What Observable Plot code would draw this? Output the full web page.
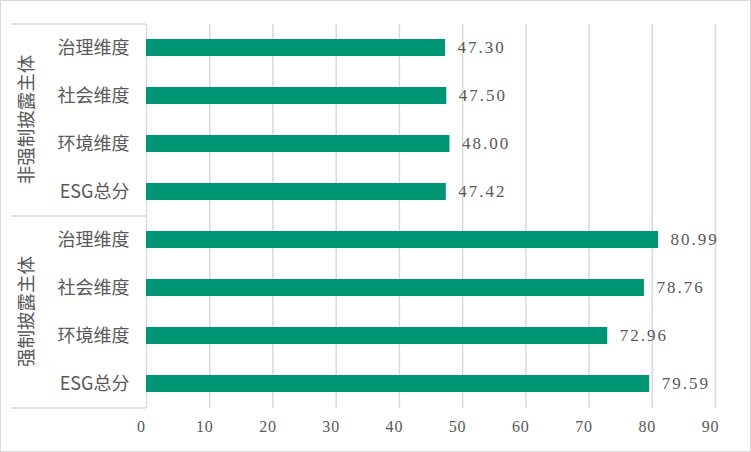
<!DOCTYPE html>
<html><head><meta charset="utf-8">
<script src="https://cdn.jsdelivr.net/npm/d3@7"></script>
<script src="https://cdn.jsdelivr.net/npm/@observablehq/plot@0.6"></script>
<style>
body{margin:0;background:#fff;}
#chart svg{display:block;outline:1.5px solid #d9d9d9;outline-offset:-1.5px;}
</style>
</head><body><div id="chart"></div>
<script>
const groups = ["非强制披露主体", "强制披露主体"];
const dimensions = ["治理维度", "社会维度", "环境维度", "ESG总分"];
const valuesNonMandatory = [47.30, 47.50, 48.00, 47.42];
const valuesMandatory = [80.99, 78.76, 72.96, 79.59];
const xTicks = [0, 10, 20, 30, 40, 50, 60, 70, 80, 90];

const seriesValues = [valuesNonMandatory, valuesMandatory];
const data = [];
groups.forEach((g, gi) => dimensions.forEach((d, di) => {
  data.push({group: g, dim: d, key: g + "|" + d, value: seriesValues[gi][di], first: di === 0, last: di === dimensions.length - 1});
}));
const keys = data.map(d => d.key);

const serif = "Liberation Serif, DejaVu Serif, serif";
const cjk = "Noto Sans CJK SC, Noto Sans CJK JP, sans-serif";
const gray = "#595959";
const lineGray = "#d9d9d9";
const step = (408 - 24) / keys.length;

const plot = Plot.plot({
  width: 751,
  height: 452,
  marginLeft: 146,
  marginRight: 36,
  marginTop: 24,
  marginBottom: 44,
  style: {background: "#fff", fontFamily: serif},
  x: {domain: [0, 90], ticks: xTicks, tickSize: 0, label: null},
  y: {domain: keys, paddingInner: 0.64, paddingOuter: 0.32, axis: null},
  marks: [
    Plot.gridX(xTicks.filter(t => t > 0), {stroke: lineGray, strokeWidth: 1.5, strokeOpacity: 1}),
    Plot.ruleX([0], {stroke: lineGray, strokeWidth: 1.5}),
    Plot.ruleY(data.filter(d => d.first), {y: "key", dy: -step / 2, stroke: lineGray, strokeWidth: 1.5, insetLeft: -135, insetRight: 569}),
    Plot.ruleY(data.filter(d => d.last && d.group === groups[groups.length - 1]), {y: "key", dy: step / 2, stroke: lineGray, strokeWidth: 1.5, insetLeft: -135, insetRight: 569}),
    Plot.barX(data, {x: "value", y: "key", fill: "#009675"}),
    Plot.text(data, {x: "value", y: "key", text: d => d.value.toFixed(2), textAnchor: "start", dx: 12, fill: gray, fontSize: 17, fontFamily: serif}),
    Plot.text(data, {y: "key", text: "dim", frameAnchor: "left", textAnchor: "end", dx: -17, fill: gray, fontSize: 18, fontFamily: cjk}),
    Plot.axisX({ticks: xTicks, tickSize: 0, tickPadding: 12, dx: -5, fill: gray, fontSize: 16, fontFamily: serif, label: null})
  ]
});

const svg = d3.select(plot);
// widen digit spacing like the reference's monospaced numerals
svg.selectAll("text").filter(function () { return /^[\d.]+$/.test(this.textContent); })
  .style("letter-spacing", function () { return this.textContent.length > 2 ? "2px" : "0.8px"; });

// Group labels (rotated), positioned from the y scale
const ys = plot.scale("y");
groups.forEach(g => {
  const rows = data.filter(d => d.group === g);
  const top = ys.apply(rows[0].key) - (ys.step - ys.bandwidth) / 2;
  const bottom = ys.apply(rows[rows.length - 1].key) + ys.bandwidth + (ys.step - ys.bandwidth) / 2;
  const cy = (top + bottom) / 2;
  svg.append("text")
    .attr("transform", `translate(25,${cy}) rotate(-90)`)
    .attr("text-anchor", "middle")
    .attr("dominant-baseline", "central")
    .attr("fill", gray)
    .attr("font-size", 18.5)
    .attr("font-family", cjk)
    .text(g);
});
document.getElementById("chart").appendChild(plot);
</script>
</body></html>
